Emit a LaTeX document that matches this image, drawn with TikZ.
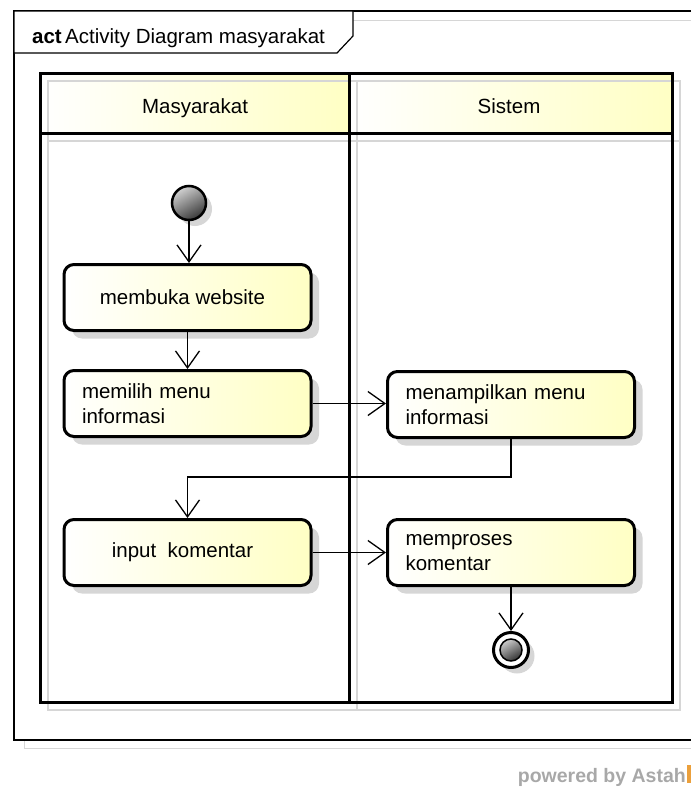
\documentclass[tikz,border=0pt]{standalone}
\usepackage{fontspec}
\setmainfont{Liberation Sans}
\usetikzlibrary{arrows.meta,shadows}

\definecolor{notefill}{RGB}{255,255,196}
\definecolor{shadowgray}{RGB}{214,214,214}
\definecolor{astahorange}{RGB}{235,160,60}

\begin{document}
\begin{tikzpicture}[x=1pt,y=-1pt,
  every node/.style={font=\fontsize{20.5}{25}\selectfont},
  action/.style={draw=black, line width=3pt, rounded corners=10pt,
    minimum width=247pt, minimum height=66pt, inner ysep=0pt,
    left color=white, right color=notefill,
    drop shadow={shadow xshift=8pt, shadow yshift=-8pt, fill=shadowgray, opacity=1}},
  actcenter/.style={action, align=center, inner xsep=0pt},
  actleft/.style={action, align=left, inner xsep=18pt, text width=211pt},
  initnode/.style={circle, draw=black, line width=2.5pt, minimum size=34pt, inner sep=0pt,
    top color=black!18, bottom color=black!78, shading angle=30,
    drop shadow={shadow xshift=6pt, shadow yshift=-6pt, fill=shadowgray, opacity=1}},
  finalouter/.style={circle, draw=black, line width=3pt, minimum size=35pt, inner sep=0pt, fill=white,
    drop shadow={shadow xshift=6pt, shadow yshift=-6pt, fill=shadowgray, opacity=1}},
  finalinner/.style={circle, draw=black, line width=1.5pt, minimum size=22pt, inner sep=0pt,
    top color=black!20, bottom color=black!80, shading angle=30},
  flow/.style={line width=1.3pt, -{Straight Barb[length=17pt, width=24pt, line width=1.3pt]}},
  lane/.style={line width=3pt},
  laneshadow/.style={shadowgray, line width=2.5pt},
  frameline/.style={line width=1.2pt}
]
\useasboundingbox (0,0) rectangle (691,787);

% outer frame with its shadow
\draw[shadowgray, line width=1pt] (353,20) -- (691,20);
\draw[shadowgray, line width=1pt] (24,740) -- (24,748) -- (691,748);
\draw[frameline] (691,11) -- (14,11) -- (14,740) -- (691,740);

% name tab
\draw[frameline, fill=white] (14,11) -- (353,11) -- (353,36) -- (337,53) -- (14,53) -- cycle;
\node[anchor=base west, inner sep=0pt] (title) at (32,43) {\textbf{act}\,Activity Diagram masyarakat};

% swimlane headers
\shade[left color=white, right color=notefill] (40,73) rectangle (349,133);
\shade[left color=white, right color=notefill] (349,73) rectangle (672,133);

% swimlane shadows
\draw[laneshadow] (48,81) rectangle (357,710);
\draw[laneshadow] (357,81) rectangle (680,710);
\draw[laneshadow] (48,141) -- (680,141);

% swimlane outlines
\draw[lane] (40,73) rectangle (672,702);
\draw[lane] (349,73) -- (349,702);
\draw[lane] (40,133) -- (672,133);

\node[anchor=base] (lane1) at (195,113) {Masyarakat};
\node[anchor=base] (lane2) at (509,113) {Sistem};

% activity nodes
\node[initnode] (init) at (189,203) {};
\node[actcenter] (b1) at (187.5,297.5) {membuka website\hspace*{10pt}};
\node[actleft] (b2) at (187.5,403.5) {memilih menu\\informasi};
\node[actleft] (b3) at (511,404.5) {menampilkan menu\\informasi};
\node[actcenter] (b4) at (187.5,552.5) {input\ \ komentar\hspace*{10pt}};
\node[actleft] (b5) at (511,552.5) {memproses\\komentar};
\node[finalouter] (fin) at (511,650) {};
\node[finalinner] (finin) at (fin) {};

% control flows
\draw[flow] (init.south) -- (init.south |- b1.north);
\draw[flow] (b1.south) -- (b2.north);
\draw[flow] (b2.east) -- (b2.east -| b3.west);
\draw[flow] (b3.south) -- ++(0,38) -| (b4.north);
\draw[flow] (b4.east) -- (b5.west);
\draw[flow] (b5.south) -- (fin.north);

% footer
\node[anchor=base east, inner sep=0pt, text=black!34,
  font=\fontsize{19.5}{22}\selectfont\bfseries] (powered) at (686,782) {powered by Astah};
\fill[astahorange] (687,765) rectangle (691,783);
\end{tikzpicture}
\end{document}
